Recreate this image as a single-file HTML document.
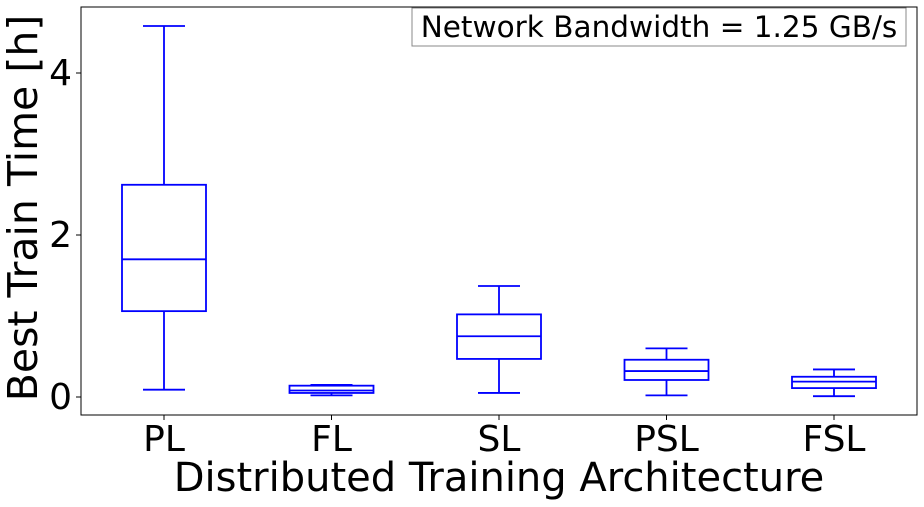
<!DOCTYPE html>
<html><head><meta charset="utf-8"><style>body{margin:0;background:#fff}svg{display:block;font-family:"DejaVu Sans","Liberation Sans",sans-serif}</style></head>
<body>
<svg id="chart" width="924" height="507">
<rect x="81" y="7" width="836" height="408" fill="none" stroke="#000" stroke-width="1"/>
<g id="marks"></g>
<g id="axes"></g>
<rect x="412" y="8" width="494" height="38" fill="#fff" stroke="#888"/>
<text x="659" y="37" font-size="29.5" text-anchor="middle">Network Bandwidth = 1.25 GB/s</text>
<text x="499" y="491" font-size="40" text-anchor="middle">Distributed Training Architecture</text>
<text transform="translate(37,208) rotate(-90)" font-size="41" text-anchor="middle">Best Train Time [h]</text>
</svg>
<script>
const categories=["PL","FL","SL","PSL","FSL"];
const whiskLow=[0.09,0.02,0.05,0.02,0.01];
const q1=[1.06,0.05,0.47,0.21,0.11];
const medians=[1.70,0.08,0.75,0.32,0.19];
const q3=[2.62,0.14,1.02,0.46,0.25];
const whiskHigh=[4.58,0.15,1.37,0.60,0.34];
const yTicks=[0,2,4];
const NS="http://www.w3.org/2000/svg";
const y=v=>397-v*81;
const x=i=>164+i*167.5;
const marks=document.getElementById('marks'),axes=document.getElementById('axes');
function mk(p,tag,a){const e=document.createElementNS(NS,tag);for(const k in a)e.setAttribute(k,a[k]);p.appendChild(e);return e;}
const bw=84,cw=42,st={stroke:"#0000ff","stroke-width":1.8,fill:"none"};
categories.forEach((c,i)=>{
 const cx=x(i);
 const g=mk(marks,'g',{});
 
 
 mk(g,'rect',Object.assign({x:cx-bw/2,y:y(q3[i]),width:bw,height:y(q1[i])-y(q3[i])},st));
 mk(g,'line',Object.assign({x1:cx-bw/2,x2:cx+bw/2,y1:y(medians[i]),y2:y(medians[i])},st));
 mk(g,'line',Object.assign({x1:cx,x2:cx,y1:y(q3[i]),y2:y(whiskHigh[i])},st));
 mk(g,'line',Object.assign({x1:cx,x2:cx,y1:y(q1[i]),y2:y(whiskLow[i])},st));
 mk(g,'line',Object.assign({x1:cx-cw/2,x2:cx+cw/2,y1:y(whiskHigh[i]),y2:y(whiskHigh[i])},st));
 mk(g,'line',Object.assign({x1:cx-cw/2,x2:cx+cw/2,y1:y(whiskLow[i]),y2:y(whiskLow[i])},st));
 mk(axes,'line',{x1:cx,x2:cx,y1:415,y2:420,stroke:"#000"});
 const t=mk(axes,'text',{x:cx,y:451,"font-size":36,"text-anchor":"middle"});t.textContent=c;
 
 
});
yTicks.forEach(v=>{
 mk(axes,'line',{x1:76,x2:81,y1:y(v),y2:y(v),stroke:"#000"});
 const t=mk(axes,'text',{x:72,y:y(v)+12,"font-size":36,"text-anchor":"end"});t.textContent=v;
 
 
});
</script>
</body></html>
